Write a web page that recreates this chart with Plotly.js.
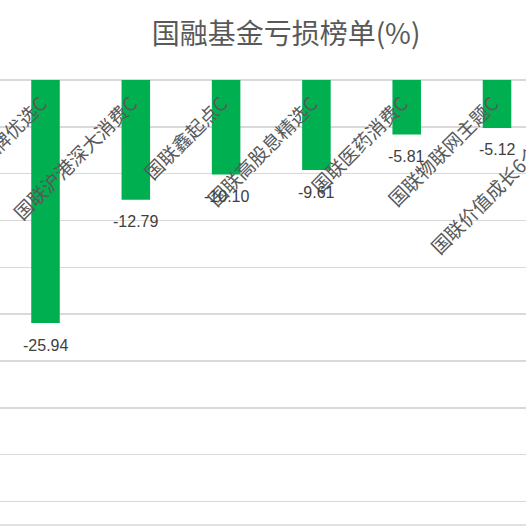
<!DOCTYPE html>
<html>
<head>
<meta charset="utf-8">
<script src="https://cdn.plot.ly/plotly-3.0.1.min.js"></script>
<style>
html,body{margin:0;padding:0;width:526px;height:526px;overflow:hidden;background:#fff;}
#chart{position:absolute;left:-100px;top:0;width:800px;height:526px;}
</style>
</head>
<body>
<div id="chart"></div>
<script>
// Data
const chartTitle = '国融基金亏损榜单(%)';
const categories = ['国联品牌优选C','国联沪港深大消费C','国联鑫起点C','国联高股息精选C','国联医药消费C','国联物联网主题C','国联价值成长6个月持有C'];
const losses = [-25.94, -12.79, -10.10, -9.61, -5.81, -5.12, null];

const labelFont = 'Liberation Sans, Arial, sans-serif';
const cjkFont = '"Noto Sans CJK SC", "Microsoft YaHei", sans-serif';

const trace = {
  type: 'bar',
  x: categories,
  y: losses,
  marker: {color: '#00B050'},
  hoverinfo: 'none'
};

const valueLabels = categories.map((c, i) => losses[i] === null ? null : ({
  x: c, y: losses[i], xref: 'x', yref: 'y',
  text: losses[i].toFixed(2),
  showarrow: false, yshift: -22,
  font: {family: labelFont, size: 16, color: '#404040'}
})).filter(a => a);

const layout = {
  width: 800, height: 526,
  margin: {l: 100, r: 0, t: 80, b: 1, pad: 0},
  paper_bgcolor: '#ffffff', plot_bgcolor: '#ffffff',
  showlegend: false,
  bargap: 0.684,
  title: {
    text: chartTitle,
    font: {family: cjkFont, size: 28, color: '#595959'},
    xref: 'container', x: 0.4825, xanchor: 'center',
    yref: 'container', y: 0.935, yanchor: 'middle'
  },
  xaxis: {
    type: 'category',
    range: [-0.504, 7.248],
    anchor: 'free', position: 1, side: 'bottom',
    tickangle: -45, ticks: '', ticklen: 0,
    ticklabelstandoff: 8, ticklabelshift: -4,
    showline: false, showgrid: false, zeroline: false,
    tickfont: {family: cjkFont, size: 19, color: '#595959'}
  },
  yaxis: {
    range: [-47.5, 0], dtick: 5,
    showgrid: true, gridcolor: '#d9d9d9', gridwidth: 1.5,
    zeroline: true, zerolinecolor: '#d9d9d9', zerolinewidth: 1.5,
    showline: false, showticklabels: false
  },
  shapes: [{
    type: 'line', xref: 'paper', yref: 'paper',
    x0: 0, x1: 1, y0: 0, y1: 0,
    line: {color: '#d9d9d9', width: 1.5}, layer: 'below'
  }],
  annotations: valueLabels
};

Plotly.newPlot('chart', [trace], layout, {displayModeBar: false, staticPlot: true});
</script>
</body>
</html>
